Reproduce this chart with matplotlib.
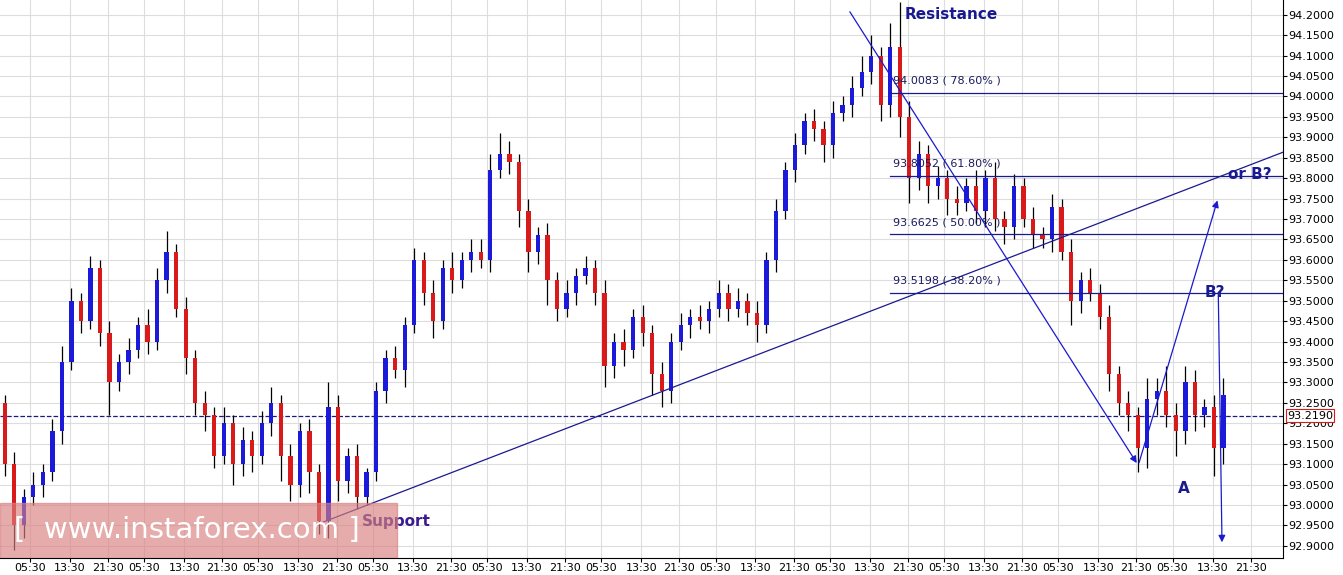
import matplotlib.pyplot as plt
import numpy as np

# hourly axis, one candle every 2 hours
closes = [93.10, 92.95, 93.02, 93.05, 93.08, 93.18, 93.35, 93.50, 93.45, 93.58,
          93.42, 93.30, 93.35, 93.38, 93.44, 93.40, 93.55, 93.62, 93.48, 93.36,
          93.25, 93.22, 93.12, 93.20, 93.10, 93.16, 93.12, 93.20, 93.25, 93.12,
          93.05, 93.18, 93.08, 92.96, 93.24, 93.06, 93.12, 93.02, 93.08, 93.28,
          93.36, 93.33, 93.44, 93.60, 93.52, 93.45, 93.58, 93.55, 93.60, 93.62,
          93.60, 93.82, 93.86, 93.84, 93.72, 93.62, 93.66, 93.55, 93.48, 93.52,
          93.56, 93.58, 93.52, 93.34, 93.40, 93.38, 93.46, 93.42, 93.32, 93.28,
          93.40, 93.44, 93.46, 93.45, 93.48, 93.52, 93.48, 93.50, 93.47, 93.44,
          93.60, 93.72, 93.82, 93.88, 93.94, 93.92, 93.88, 93.96, 93.98, 94.02,
          94.06, 94.10, 93.98, 94.12, 93.95, 93.80, 93.86, 93.78, 93.80, 93.75,
          93.74, 93.78, 93.72, 93.80, 93.70, 93.68, 93.78, 93.70, 93.66, 93.65,
          93.73, 93.62, 93.50, 93.55, 93.52, 93.46, 93.32, 93.25, 93.22, 93.14,
          93.26, 93.28, 93.22, 93.18, 93.30, 93.22, 93.24, 93.14, 93.27]
first_open = 93.25
# wick extents in hundredths
up = [2, 3, 2, 3, 2, 3, 4, 3, 2, 3, 2, 3, 2, 3, 2, 4, 3, 5, 2, 3,
      2, 3, 2, 4, 2, 3, 2, 3, 4, 2, 3, 2, 3, 2, 6, 3, 2, 3, 1, 2,
      2, 3, 2, 3, 2, 3, 2, 4, 2, 3, 3, 4, 5, 3, 2, 3, 2, 3, 2, 3,
      2, 3, 2, 3, 2, 3, 2, 3, 2, 3, 2, 3, 2, 3, 2, 3, 2, 3, 2, 3,
      2, 3, 2, 3, 2, 3, 2, 3, 2, 3, 4, 5, 2, 6, 11, 4, 3, 2, 3, 2,
      3, 2, 4, 2, 4, 2, 3, 2, 3, 2, 3, 2, 3, 2, 3, 2, 3, 2, 3, 2,
      5, 3, 6, 3, 4, 3, 2, 3, 4]
dn = [3, 6, 3, 2, 3, 2, 3, 2, 3, 2, 3, 8, 2, 3, 2, 3, 2, 3, 2, 4,
      3, 4, 3, 2, 5, 3, 4, 2, 3, 6, 4, 3, 5, 3, 4, 5, 3, 3, 2, 2,
      3, 2, 4, 2, 3, 4, 2, 3, 2, 3, 2, 3, 2, 3, 4, 5, 3, 6, 3, 2,
      3, 2, 3, 5, 3, 4, 2, 3, 5, 4, 3, 2, 3, 2, 3, 2, 3, 2, 3, 4,
      2, 3, 2, 3, 2, 3, 4, 3, 2, 3, 2, 3, 4, 3, 5, 6, 3, 4, 3, 4,
      3, 2, 3, 4, 3, 4, 3, 2, 3, 2, 3, 2, 6, 3, 2, 3, 4, 3, 4, 6,
      5, 4, 3, 6, 3, 4, 3, 7, 4]

fib_levels = [94.0083, 93.8052, 93.6625, 93.5198]
fib_labels = ['94.0083 ( 78.60% )', '93.8052 ( 61.80% )',
              '93.6625 ( 50.00% )', '93.5198 ( 38.20% )']
last_price = 93.2190
# annotation anchors (hours, price)
support_line = [(67.6, 92.957), (282.1, 93.920)]
wave_path = [(178.2, 94.213), (239.1, 93.097), (255.9, 93.752)]
drop_arrow = [(255.9, 93.528), (256.7, 92.902)]
tick_labels = ['05:30', '13:30', '21:30']

opens = [first_open] + closes[:-1]
t = 1 + 2 * np.arange(len(closes))
highs = [max(o, c) + u / 100 for o, c, u in zip(opens, closes, up)]
lows = [min(o, c) - d / 100 for o, c, d in zip(opens, closes, dn)]

fig = plt.figure(figsize=(13.43, 5.75), dpi=100)
ax = fig.add_axes([0, 0.03, 0.9553, 0.97])
ax.set_xlim(0, 269.5)
ax.set_ylim(92.871, 94.236)

for x, o, c, h, l in zip(t, opens, closes, highs, lows):
    col = '#1a1ad8' if c >= o else '#d81a1a'
    ax.vlines(x, l, h, color='black', lw=0.9, zorder=2)
    ax.bar(x, max(abs(c - o), 0.004), bottom=min(o, c), width=0.9, color=col, zorder=3)

ax.axhline(last_price, color='#1a1a80', ls='--', lw=0.9, zorder=1)

(x0, y0), (x1, y1) = support_line
ax.plot([x0, x1], [y0, y1], color='#1a1a90', lw=0.9, zorder=4)
ax.annotate('', xy=wave_path[1], xytext=wave_path[0],
            arrowprops=dict(arrowstyle='-|>', color='#1a1ad0', lw=0.9))
ax.annotate('', xy=wave_path[2], xytext=wave_path[1],
            arrowprops=dict(arrowstyle='-|>', color='#1a1ad0', lw=0.9))
ax.annotate('', xy=drop_arrow[1], xytext=drop_arrow[0],
            arrowprops=dict(arrowstyle='-|>', color='#1a1ad0', lw=0.9))

for lv, lb in zip(fib_levels, fib_labels):
    ax.plot([187, 269.5], [lv, lv], color='#1a1a90', lw=0.9, zorder=4)
    ax.text(187.6, lv + 0.03, lb, fontsize=8, color='#1a1a60', va='center', zorder=5)

ax.text(190, 94.2, 'Resistance', fontsize=11, weight='bold', color='#1a1a90', va='center')
ax.text(76, 92.96, 'Support', fontsize=11, weight='bold', color='#3a1a90', va='center')
ax.text(258, 93.81, 'or B?', fontsize=11, weight='bold', color='#1a1a90', va='center')
ax.text(253, 93.52, 'B?', fontsize=11, weight='bold', color='#1a1a90', va='center')
ax.text(247.5, 93.04, 'A', fontsize=11, weight='bold', color='#1a1a90', va='center')

# watermark
ax.add_patch(plt.Rectangle((0, 92.871), 83.4, 0.135, color='#d98080', alpha=0.65, zorder=6))
ax.text(3, 92.94, '[  www.instaforex.com ]', fontsize=21, color='white', va='center', zorder=7)

yt = np.arange(92.9, 94.2001, 0.05)
ax.set_yticks(yt)
ax.set_yticklabels([f'{v:.4f}' for v in yt], fontsize=8)
ax.yaxis.tick_right()
xt, xl = [], []
for d in range(12):
    for off, lab in zip([6.3, 14.7, 22.7], tick_labels):
        h = off + 24 * d
        if h < 269:
            xt.append(h)
            xl.append(lab)
ax.set_xticks(xt)
ax.set_xticklabels(xl, fontsize=8)
ax.tick_params(length=3, pad=1)
ax.grid(True, color='#dddddd', lw=0.8, zorder=0)
ax.set_axisbelow(True)
for s in ['top', 'left']:
    ax.spines[s].set_visible(False)

ax.text(1.003, (last_price - 92.871) / (94.236 - 92.871), f'{last_price:.4f}',
        transform=ax.transAxes, fontsize=8, va='center', ha='left',
        bbox=dict(boxstyle='square,pad=0.1', fc='white', ec='#d81a1a', lw=0.8))

fig.savefig('out.png', dpi=100)
